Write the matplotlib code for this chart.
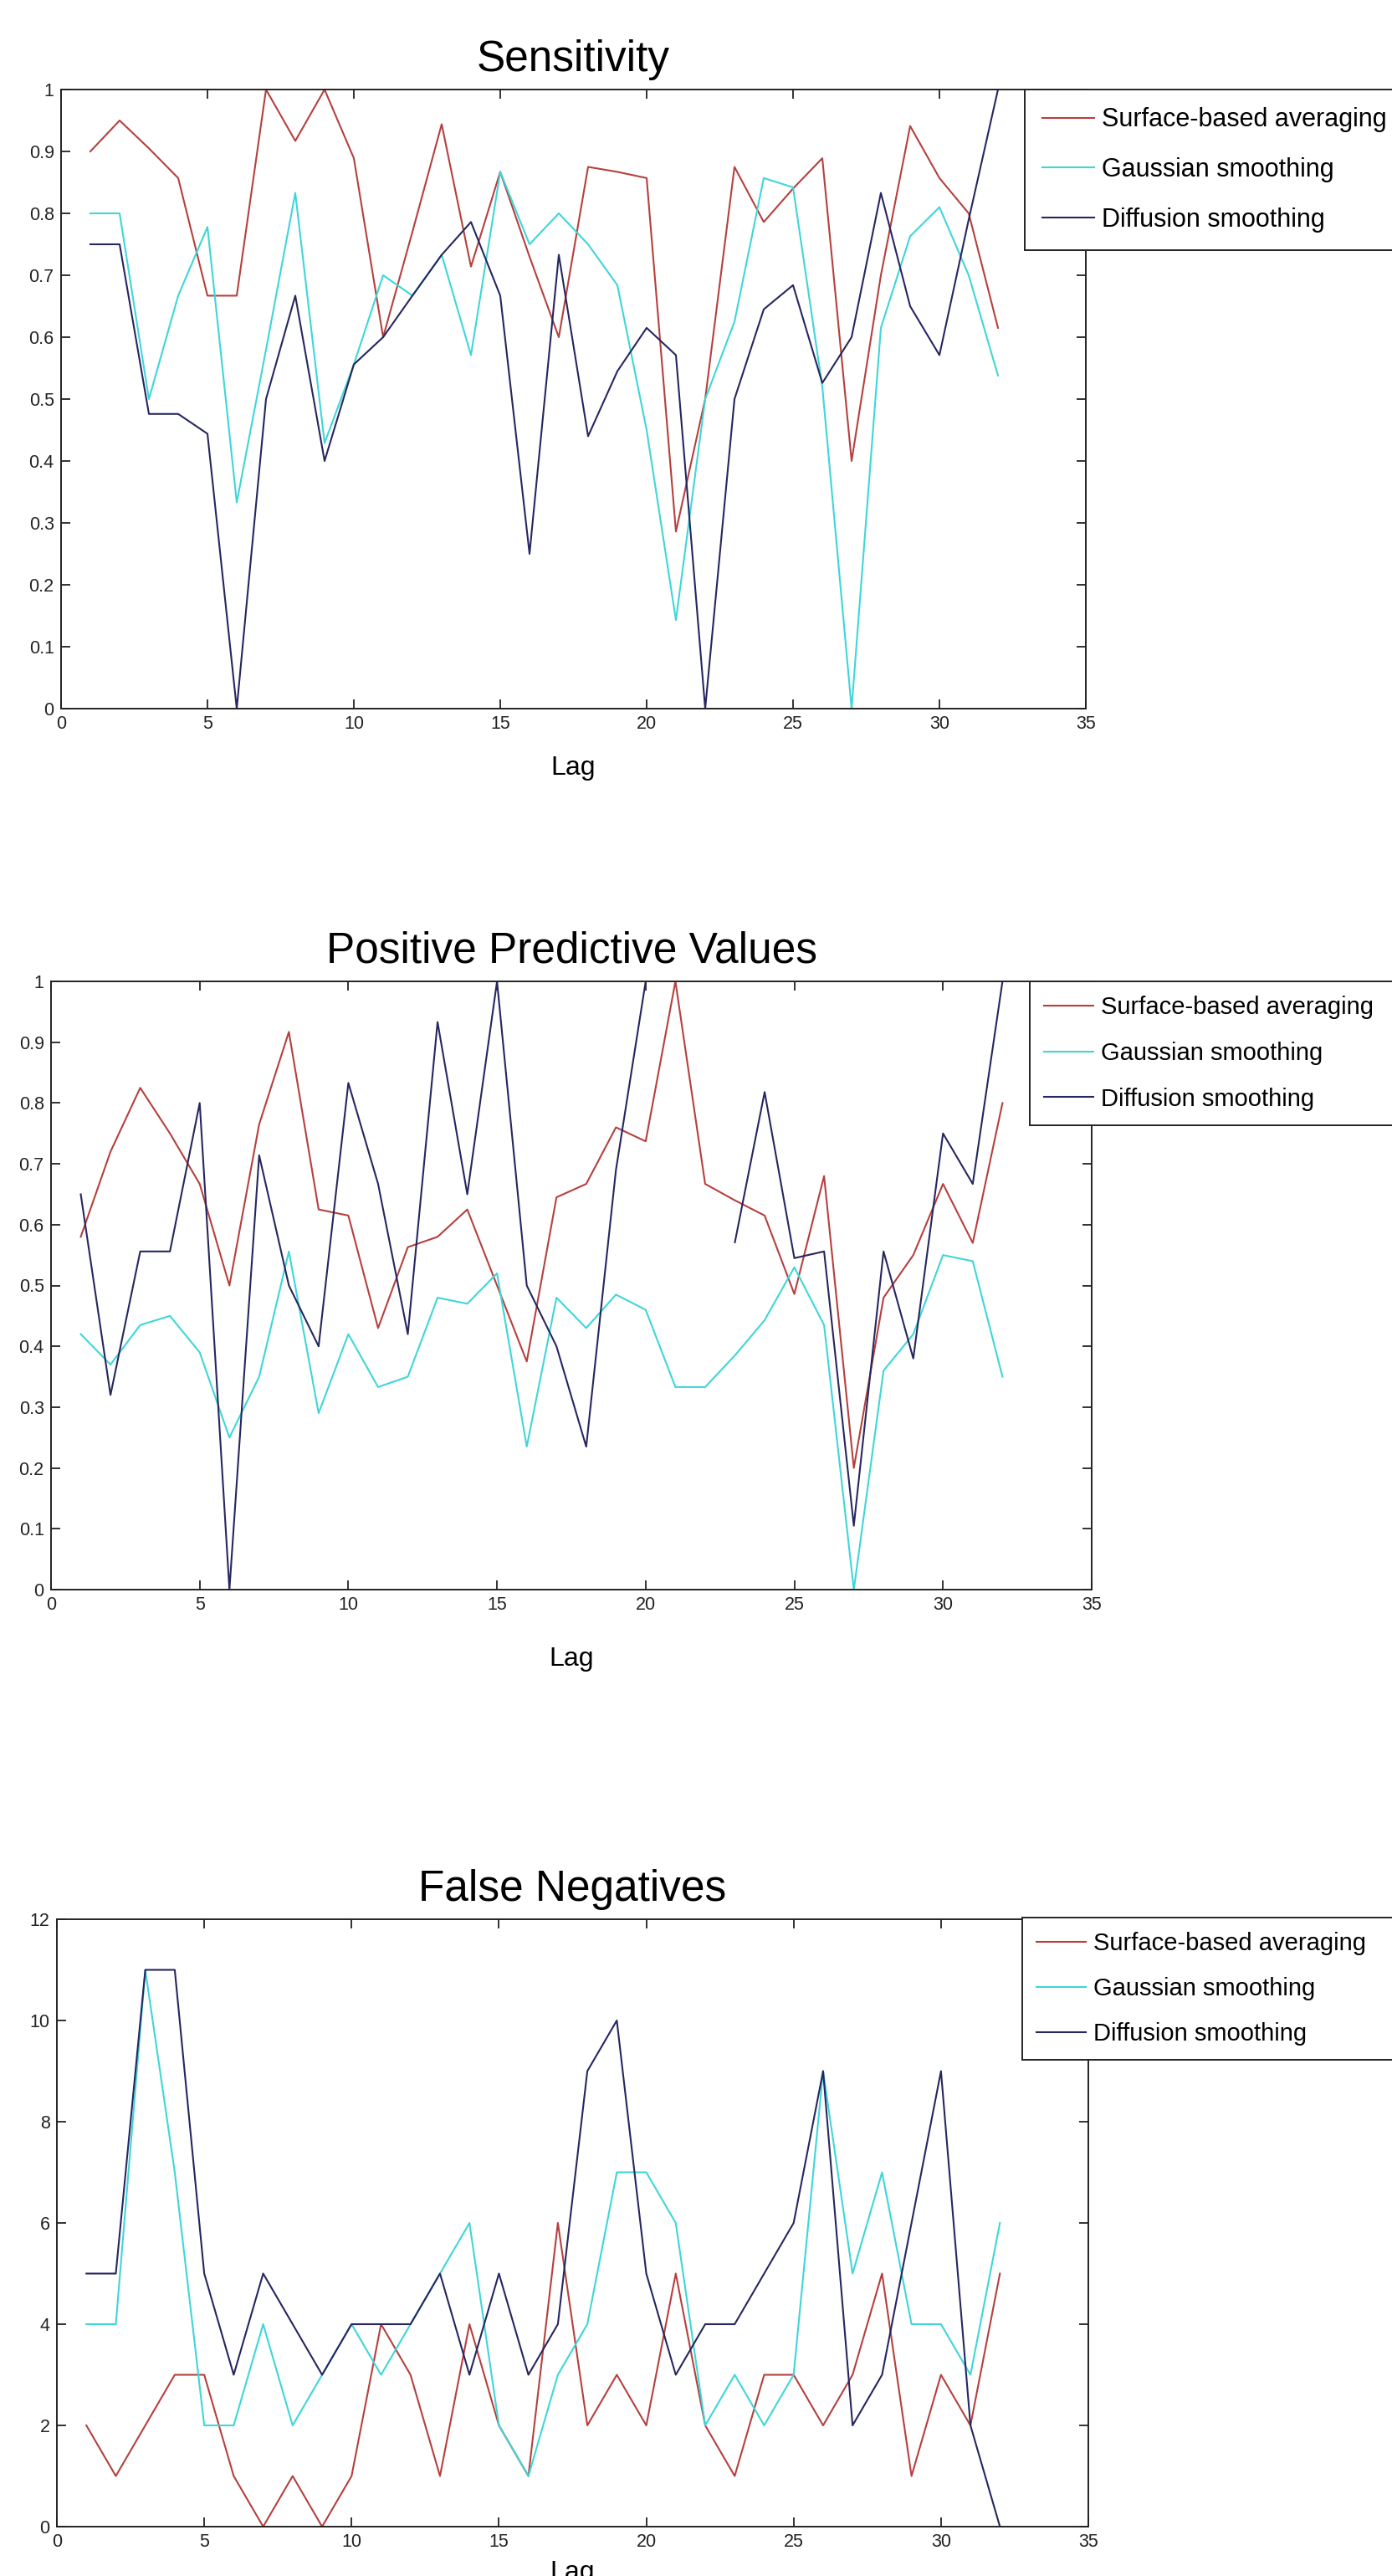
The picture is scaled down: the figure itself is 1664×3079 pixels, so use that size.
import numpy as np
import matplotlib
matplotlib.use("Agg")
import matplotlib.pyplot as plt
from matplotlib.ticker import FuncFormatter

plt.rcParams['font.family'] = ['Liberation Sans', 'DejaVu Sans']

lags = list(range(1, 33))
series_names = ["Surface-based averaging", "Gaussian smoothing", "Diffusion smoothing"]
colors = ["#B5403E", "#3FD6D8", "#262660"]

# ---- Sensitivity ----
sens_surface = [0.9, 0.95, 0.905, 0.857, 0.667, 0.667, 1.0, 0.917, 1.0, 0.889,
                0.6, 0.77, 0.944, 0.714, 0.867, 0.73, 0.6, 0.875, 0.867, 0.857,
                0.286, 0.5, 0.875, 0.786, 0.84, 0.889, 0.4, 0.7, 0.941, 0.857,
                0.8, 0.615]
sens_gauss = [0.8, 0.8, 0.5, 0.667, 0.778, 0.333, 0.58, 0.833, 0.429, 0.556,
              0.7, 0.667, 0.733, 0.571, 0.867, 0.75, 0.8, 0.75, 0.684, 0.45,
              0.143, 0.5, 0.625, 0.857, 0.842, 0.52, 0.0, 0.615, 0.763, 0.81,
              0.7, 0.538]
sens_diff = [0.75, 0.75, 0.476, 0.476, 0.444, 0.0, 0.5, 0.667, 0.4, 0.556,
             0.6, 0.667, 0.733, 0.786, 0.667, 0.25, 0.733, 0.44, 0.545, 0.615,
             0.571, 0.0, 0.5, 0.645, 0.684, 0.526, 0.6, 0.833, 0.65, 0.571,
             0.79, 1.0]

# ---- Positive Predictive Values ----
ppv_surface = [0.58, 0.72, 0.825, 0.75, 0.667, 0.5, 0.765, 0.917, 0.625, 0.615,
               0.43, 0.563, 0.58, 0.625, 0.5, 0.375, 0.645, 0.667, 0.76, 0.737,
               1.0, 0.667, 0.64, 0.615, 0.486, 0.68, 0.2, 0.48, 0.55, 0.667,
               0.57, 0.8]
ppv_gauss = [0.42, 0.37, 0.435, 0.45, 0.39, 0.25, 0.35, 0.556, 0.29, 0.42,
             0.333, 0.35, 0.48, 0.47, 0.52, 0.235, 0.48, 0.43, 0.485, 0.46,
             0.333, 0.333, 0.385, 0.443, 0.53, 0.435, 0.0, 0.36, 0.42, 0.55,
             0.54, 0.35]
ppv_diff = [0.65, 0.32, 0.556, 0.556, 0.8, 0.0, 0.714, 0.5, 0.4, 0.833,
            0.667, 0.42, 0.933, 0.65, 1.0, 0.5, 0.4, 0.235, 0.69, 1.0,
            np.nan, np.nan, 0.571, 0.818, 0.545, 0.556, 0.105, 0.556, 0.38, 0.75,
            0.667, 1.0]

# ---- False Negatives ----
fn_surface = [2, 1, 2, 3, 3, 1, 0, 1, 0, 1, 4, 3, 1, 4, 2, 1, 6, 2, 3, 2,
              5, 2, 1, 3, 3, 2, 3, 5, 1, 3, 2, 5]
fn_gauss = [4, 4, 11, 7, 2, 2, 4, 2, 3, 4, 3, 4, 5, 6, 2, 1, 3, 4, 7, 7,
            6, 2, 3, 2, 3, 9, 5, 7, 4, 4, 3, 6]
fn_diff = [5, 5, 11, 11, 5, 3, 5, 4, 3, 4, 4, 4, 5, 3, 5, 3, 4, 9, 10, 5,
           3, 4, 4, 5, 6, 9, 2, 3, 6, 9, 2, 0]

panels = [
    dict(title="Sensitivity", data=[sens_surface, sens_gauss, sens_diff],
         ylim=(0, 1), yticks=np.round(np.arange(0, 1.01, 0.1), 1),
         box=(73, 1298, 107, 847), leg=(1225, 107), legfs=22,
         bp=0.7, ls=0.97, hl=2.0, lpad=19.5),
    dict(title="Positive Predictive Values", data=[ppv_surface, ppv_gauss, ppv_diff],
         ylim=(0, 1), yticks=np.round(np.arange(0, 1.01, 0.1), 1),
         box=(61, 1305, 1173, 1900), leg=(1231, 1173), legfs=21,
         bp=0.58, ls=0.92, hl=2.03, lpad=28),
    dict(title="False Negatives", data=[fn_surface, fn_gauss, fn_diff],
         ylim=(0, 12), yticks=np.arange(0, 13, 2),
         box=(68, 1301, 2294, 3020), leg=(1222, 2292), legfs=21,
         bp=0.58, ls=0.9, hl=2.03, lpad=8),
]

W, H = 1664, 3079
fig = plt.figure(figsize=(W / 100, H / 100), dpi=100)
fig.patch.set_facecolor("white")

fmt = FuncFormatter(lambda v, p: "%g" % v)

for P in panels:
    l, r, t, b = P["box"]
    ax = fig.add_axes([l / W, 1 - b / H, (r - l) / W, (b - t) / H])
    handles = []
    for vals, c, name in zip(P["data"], colors, series_names):
        h, = ax.plot(lags, vals, color=c, lw=1.5, label=name)
        handles.append(h)
    ax.set_xlim(0, 35)
    ax.set_ylim(*P["ylim"])
    ax.set_xticks(range(0, 36, 5))
    ax.set_yticks(P["yticks"])
    ax.yaxis.set_major_formatter(fmt)
    ax.tick_params(direction="in", length=8, width=1.3, top=True, right=True,
                   labelsize=15.5, pad=6, color="#222222", labelcolor="#222222")
    for s in ax.spines.values():
        s.set_linewidth(1.4)
        s.set_color("#222222")
    ax.set_title(P["title"], fontsize=37, pad=16, color="black")
    ax.set_xlabel("Lag", fontsize=23, labelpad=P["lpad"], color="black")

    lx, ly = P["leg"]
    leg = fig.legend(handles=handles, labels=series_names,
                     loc="upper left",
                     bbox_to_anchor=(lx / W, 1 - ly / H - 0.05, (1672 - lx) / W, 0.05),
                     mode="expand", borderaxespad=0, fontsize=P["legfs"],
                     handlelength=P["hl"], handletextpad=0.3, labelspacing=P["ls"],
                     borderpad=P["bp"], fancybox=False, framealpha=1,
                     edgecolor="#222222")
    leg.get_frame().set_linewidth(1.4)

fig.savefig("out.png", dpi=100, facecolor="white")
